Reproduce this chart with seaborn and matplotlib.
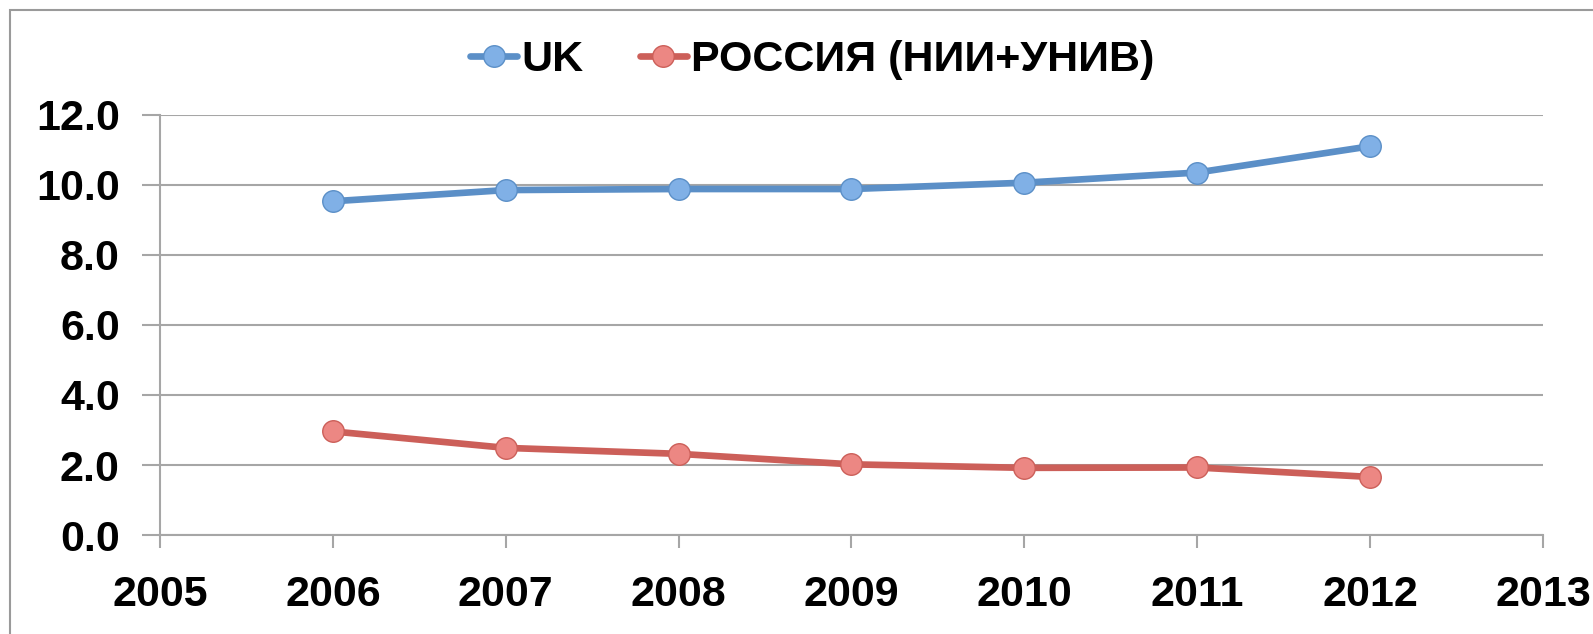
#-----------------------------------------------------------------
# Required Python Packages
#-----------------------------------------------------------------

import pandas as pd
import matplotlib
matplotlib.use("Agg")
import matplotlib.pyplot as plt
from matplotlib.patches import Rectangle
import seaborn as sns

#-----------------------------------------------------------------
# Chart data
#-----------------------------------------------------------------

YEARS = [2006, 2007, 2008, 2009, 2010, 2011, 2012]
UK_VALUES = [9.53, 9.85, 9.88, 9.88, 10.06, 10.35, 11.1]
RU_VALUES = [2.96, 2.49, 2.32, 2.02, 1.92, 1.93, 1.66]

SERIES_NAMES = ["UK", "РОССИЯ (НИИ+УНИВ)"]
X_TICKS = [2005, 2006, 2007, 2008, 2009, 2010, 2011, 2012, 2013]
Y_TICKS = [0, 2, 4, 6, 8, 10, 12]

OUTPUT_PATH = "out.png"

LINE_COLORS = ["#5b8fc7", "#cc5f59"]
MARKER_COLORS = ["#80b0e6", "#ec8783"]
GRID_COLOR = "#a6a6a6"
FONT_SIZE = 31


def main():
    sns.set_style("white")
    plt.rcParams["font.family"] = ["Liberation Sans", "DejaVu Sans"]
    plt.rcParams["font.weight"] = "bold"
    plt.rcParams["text.color"] = "black"
    plt.rcParams["xtick.labelcolor"] = "black"
    plt.rcParams["ytick.labelcolor"] = "black"

    fig = plt.figure(figsize=(15.93, 6.34), dpi=100)
    ax = fig.add_axes([0.1004, 0.156, 0.8682, 0.663])

    # outer chart frame (cut off at the right and bottom)
    fig.patches.append(Rectangle((0.0063, -0.2), 1.2, 1.184, transform=fig.transFigure,
                                 fill=False, edgecolor="#9a9a9a", linewidth=1.5))

    values = [UK_VALUES, RU_VALUES]
    for name, vals, lc, mc in zip(SERIES_NAMES, values, LINE_COLORS, MARKER_COLORS):
        sns.lineplot(x=YEARS, y=vals, ax=ax, color=lc, linewidth=4.8,
                     marker="o", markersize=15.5, markerfacecolor=mc,
                     markeredgecolor=lc, markeredgewidth=1.0, label=name,
                     zorder=3)

    ax.set_xlim(2005, 2013)
    ax.set_ylim(0, 12)
    ax.set_xticks(X_TICKS)
    ax.set_xticklabels([str(x) for x in X_TICKS])
    ax.set_yticks(Y_TICKS)
    ax.set_yticklabels([f"{y:.1f}" for y in Y_TICKS])

    ax.yaxis.grid(True, color=GRID_COLOR, linewidth=1.5)
    ax.xaxis.grid(False)
    ax.set_axisbelow(True)

    for side in ["top", "right"]:
        ax.spines[side].set_visible(False)
    for side in ["left", "bottom"]:
        ax.spines[side].set_color(GRID_COLOR)
        ax.spines[side].set_linewidth(1.5)

    ax.tick_params(axis="x", direction="out", length=9, width=1.5, color=GRID_COLOR,
                   pad=20, labelsize=FONT_SIZE, labelcolor="black")
    ax.tick_params(axis="y", direction="out", length=13, width=1.5, color=GRID_COLOR,
                   pad=16, labelsize=FONT_SIZE, labelcolor="black")
    ax.tick_params(bottom=True, left=True)
    for lbl in ax.get_xticklabels() + ax.get_yticklabels():
        lbl.set_fontweight("bold")

    leg = ax.legend(loc="center", bbox_to_anchor=(0.51, 0.906), bbox_transform=fig.transFigure,
                    ncol=2, frameon=False, prop={"size": FONT_SIZE, "weight": "bold"},
                    handlelength=1.1, handletextpad=0.1, columnspacing=1.3,
                    borderaxespad=0)
    for txt in leg.get_texts():
        txt.set_color("black")

    fig.savefig(OUTPUT_PATH, dpi=100)


if __name__ == "__main__":
    main()
